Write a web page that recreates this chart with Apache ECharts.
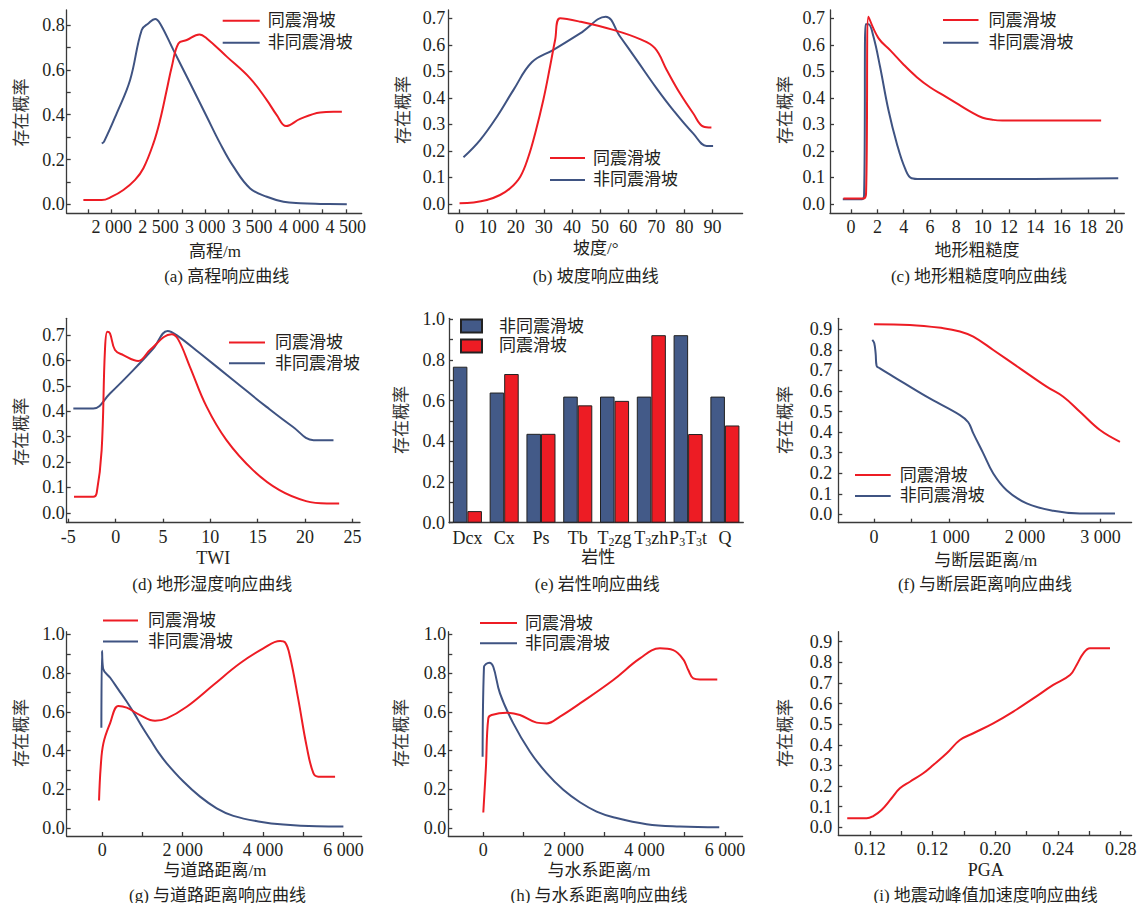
<!DOCTYPE html>
<html><head><meta charset="utf-8">
<script src="https://cdn.jsdelivr.net/npm/echarts@6/dist/echarts.min.js"></script>
<style>html,body{margin:0;padding:0;background:#fff}#c{width:1144px;height:903px}</style>
</head><body><div id="c"></div>
<script>
// ---------- data ----------
const NAME_RED = '同震滑坡', NAME_BLUE = '非同震滑坡';

const elevationRed = [[1698,0.019],[1894,0.019],[2001,0.034],[2125,0.064],[2250,0.109],[2339,0.161],[2446,0.272],[2517,0.376],[2588,0.51],[2642,0.614],[2713,0.718],[2802,0.733],[2937,0.758],[3016,0.74],[3229,0.659],[3479,0.562],[3657,0.465],[3763,0.398],[3863,0.349],[4013,0.381],[4227,0.41],[4369,0.413],[4458,0.413]];
const elevationBlue = [[1894,0.272],[1919,0.28],[2054,0.406],[2197,0.555],[2321,0.778],[2392,0.807],[2464,0.827],[2517,0.807],[2660,0.688],[2838,0.54],[3016,0.391],[3158,0.272],[3301,0.168],[3479,0.071],[3657,0.034],[3835,0.012],[4013,0.005],[4227,0.002],[4511,0.0]];

const slopeRed = [[0,0.003],[5,0.006],[9.7,0.015],[14.4,0.034],[18,0.059],[21.6,0.103],[24.5,0.178],[26.9,0.266],[29.8,0.392],[32.2,0.518],[34,0.618],[35.8,0.7],[42.9,0.687],[54.7,0.656],[64.2,0.621],[69.5,0.587],[73.7,0.505],[78.4,0.417],[83.1,0.342],[86.7,0.292],[89.6,0.288]];
const slopeBlue = [[1.4,0.176],[7.3,0.241],[13.3,0.329],[19.2,0.43],[25.7,0.534],[33.4,0.581],[42.9,0.643],[52,0.706],[57.1,0.631],[63,0.543],[70.1,0.436],[76,0.354],[83.1,0.266],[87.9,0.219],[90.2,0.219]];

const roughRed = [[-0.58,0.021],[0.94,0.021],[1.14,0.04],[1.32,0.706],[2.08,0.625],[3.0,0.578],[4.0,0.525],[5.0,0.478],[6.0,0.44],[7.0,0.41],[8.0,0.38],[9.0,0.35],[10.0,0.325],[10.8,0.317],[11.5,0.315],[13.3,0.315],[19.0,0.315]];
const roughBlue = [[-0.63,0.018],[0.81,0.018],[0.99,0.034],[1.11,0.677],[1.32,0.677],[1.7,0.631],[2.2,0.518],[2.84,0.354],[3.47,0.229],[4.1,0.134],[4.6,0.097],[5.24,0.094],[10.8,0.094],[20.3,0.097]];

const twiRed = [[-4.4,0.063],[-2.36,0.063],[-2.0,0.079],[-1.48,0.247],[-1.13,0.641],[-0.88,0.713],[-0.6,0.707],[-0.07,0.641],[0.81,0.621],[2.39,0.598],[3.62,0.641],[5.9,0.703],[6.6,0.683],[7.84,0.575],[9.6,0.418],[11.7,0.286],[14.5,0.168],[17.3,0.089],[20.1,0.046],[22.3,0.037],[23.6,0.037]];
const twiBlue = [[-4.47,0.411],[-2.36,0.411],[-0.6,0.47],[1.86,0.562],[3.97,0.647],[5.49,0.716],[6.43,0.7],[8.9,0.628],[12.4,0.523],[15.9,0.418],[18.7,0.339],[20.9,0.286],[23.0,0.286]];

const lithCategories = ['Dcx','Cx','Ps','Tb','T2zg','T3zh','P3T3t','Q'];
const lithBlue = [0.767,0.64,0.437,0.62,0.62,0.62,0.922,0.62];
const lithRed  = [0.057,0.731,0.437,0.577,0.599,0.922,0.436,0.478];

const faultRed = [[0,0.924],[476,0.921],[918,0.905],[1138,0.889],[1315,0.864],[1579,0.799],[1932,0.71],[2285,0.621],[2506,0.572],[2726,0.499],[2991,0.41],[3256,0.353]];
const faultBlue = [[-22,0.848],[4,0.832],[22,0.783],[35,0.722],[79,0.71],[256,0.67],[697,0.572],[1138,0.483],[1248,0.448],[1315,0.394],[1447,0.297],[1579,0.199],[1756,0.118],[2021,0.054],[2373,0.018],[2726,0.005],[3190,0.005]];

const roadRed = [[-83,0.143],[-41,0.318],[25,0.438],[191,0.541],[398,0.631],[606,0.622],[938,0.584],[1311,0.555],[1602,0.567],[2100,0.627],[2763,0.739],[3427,0.851],[4008,0.928],[4423,0.966],[4548,0.959],[4672,0.885],[4880,0.662],[5087,0.421],[5253,0.284],[5378,0.266],[5793,0.266]];
const roadBlue = [[-25,0.519],[-8,0.916],[17,0.825],[200,0.775],[400,0.715],[600,0.655],[800,0.59],[1000,0.52],[1200,0.455],[1400,0.39],[1602,0.335],[2017,0.241],[2432,0.163],[2846,0.103],[3261,0.064],[3925,0.034],[4506,0.019],[5336,0.01],[6000,0.009]];

const riverRed = [[0,0.081],[66,0.318],[124,0.567],[207,0.584],[579,0.596],[910,0.584],[1324,0.545],[1572,0.541],[1904,0.576],[2400,0.644],[3228,0.765],[3890,0.876],[4386,0.928],[4717,0.919],[4966,0.871],[5090,0.816],[5214,0.773],[5379,0.768],[5810,0.768]];
const riverBlue = [[-17,0.369],[17,0.833],[66,0.847],[149,0.854],[248,0.833],[414,0.696],[745,0.541],[1159,0.395],[1572,0.284],[1986,0.198],[2400,0.134],[2814,0.086],[3228,0.057],[4055,0.021],[4883,0.009],[5859,0.005]];

const pgaRed = [[0.1055,0.044],[0.1179,0.044],[0.1221,0.055],[0.1274,0.084],[0.1338,0.141],[0.1391,0.189],[0.1455,0.221],[0.154,0.262],[0.1604,0.302],[0.169,0.359],[0.1774,0.423],[0.186,0.456],[0.1987,0.504],[0.2115,0.561],[0.2243,0.625],[0.237,0.69],[0.2477,0.738],[0.2519,0.787],[0.2562,0.843],[0.2604,0.868],[0.2732,0.868]];

// ---------- tick values / labels ----------
const elevXTicks = [1750,2000,2250,2500,2750,3000,3250,3500,3750,4000,4250,4500];
const elevXLabels = [2000,2500,3000,3500,4000,4500];
const slopeXTicks = [0,10,20,30,40,50,60,70,80,90];
const roughXTicks = [0,2,4,6,8,10,12,14,16,18,20];
const twiXTicks = [-5,0,5,10,15,20,25];
const faultXTicks = [0,500,1000,1500,2000,2500,3000];
const faultXLabels = [0,1000,2000,3000];
const distXTicks = [0,1000,2000,3000,4000,5000,6000];
const distXLabels = [0,2000,4000,6000];
const pgaXTicks = [0.12,0.14,0.16,0.18,0.20,0.22,0.24,0.26,0.28];
const pgaXLabelValues = [0.12,0.16,0.20,0.24,0.28];
const pgaXLabelTexts = ['0.12','0.12','0.20','0.24','0.28'];
const y07Ticks = [0,0.1,0.2,0.3,0.4,0.5,0.6,0.7];
const y08Ticks = [0,0.1,0.2,0.3,0.4,0.5,0.6,0.7,0.8];
const y08Labels = [0,0.2,0.4,0.6,0.8];
const y09Ticks = [0,0.1,0.2,0.3,0.4,0.5,0.6,0.7,0.8,0.9];
const y10Ticks = [0,0.1,0.2,0.3,0.4,0.5,0.6,0.7,0.8,0.9,1.0];
const y10Labels = [0,0.2,0.4,0.6,0.8,1.0];

const yNameText = '存在概率';
const xNames = ['高程/m','坡度/°','地形粗糙度','TWI','岩性','与断层距离/m','与道路距离/m','与水系距离/m','PGA'];
const captions = ['(a) 高程响应曲线','(b) 坡度响应曲线','(c) 地形粗糙度响应曲线','(d) 地形湿度响应曲线','(e) 岩性响应曲线','(f) 与断层距离响应曲线','(g) 与道路距离响应曲线','(h) 与水系距离响应曲线','(i) 地震动峰值加速度响应曲线'];

// ---------- styles / layout ----------
const SERIF = "'Liberation Serif','Times New Roman','Noto Sans CJK SC',serif";
const TXT = '#231f20', AX = '#3a3a3a';
const RED = '#ed1c24', BLUE = '#3f5382', BAR_BLUE = '#435a88', BAR_RED = '#ed1c24';
const SMOOTH = 0.4;

function thou(v){ const r = Math.round(v); if (Math.abs(r) >= 1000){ const s = String(r); return s.slice(0,-3) + ' ' + s.slice(-3);} return String(r); }
const f1 = v => v.toFixed(1);
const plain = v => String(v);
const pgaFmt = v => { const i = pgaXLabelValues.findIndex(x => Math.abs(x - v) < 1e-9); return i >= 0 ? pgaXLabelTexts[i] : ''; };

const panels = [
 {g:[66.7,10,295,203.3], x:[1520,4670], y:[-0.04,0.867], xt:elevXTicks, xl:elevXLabels, xf:thou, yt:y08Ticks, yl:y08Labels, ym:2, red:elevationRed, blue:elevationBlue,
  leg:{l:222.7,t:12.2,w:37,gap:5,pad:3}, yn:[21.7,112.5], xn:[215,251.7], cap:[226.7,276]},
 {g:[448.3,10,294.3,203.3], x:[-4,100.7], y:[-0.035,0.731], xt:slopeXTicks, xl:slopeXTicks, xf:plain, yt:y07Ticks, yl:y07Ticks, ym:3, red:slopeRed, blue:slopeBlue,
  leg:{l:550,t:149.5,w:35,gap:5,pad:3}, yn:[403.3,110], xn:[595.8,248.3], cap:[595.7,276]},
 {g:[830,10,294.3,203.3], x:[-1.6,20.76], y:[-0.035,0.731], xt:roughXTicks, xl:roughXTicks, xf:plain, yt:y07Ticks, yl:y07Ticks, ym:5, red:roughRed, blue:roughBlue,
  leg:{l:943,t:11.5,w:35.5,gap:5.7,pad:5}, yn:[785,110], xn:[977,250], cap:[979,276]},
 {g:[66.7,318.3,293.3,204.4], x:[-5.17,25.8], y:[-0.039,0.766], xt:twiXTicks, xl:twiXTicks, xf:plain, yt:y07Ticks, yl:y07Ticks, ym:2, red:twiRed, blue:twiBlue,
  leg:{l:229,t:334,w:36,gap:3.7,pad:5}, yn:[21.7,431.7], xn:[213.3,558.3], cap:[212.3,584], latin:true},
 {bar:true, g:[449,318.3,294.3,204.4], y:[0,1.005], yt:y10Ticks, yl:y10Labels, ym:4,
  leg:{l:460,t:317.5,w:21,h:13,gap:3,pad:12}, yn:[401.7,420], xn:[598.3,557.5], cap:[597.3,584]},
 {g:[838.3,318.3,293.3,204.4], x:[-472,3410], y:[-0.04,0.953], xt:faultXTicks, xl:faultXLabels, xf:thou, yt:y09Ticks, yl:y09Ticks, ym:6, red:faultRed, blue:faultBlue,
  leg:{l:855,t:466.5,w:35.7,gap:4,pad:4}, yn:[785,420], xn:[985.7,560], cap:[985,584]},
 {g:[66.7,631.7,295,204.3], x:[-888,6456], y:[-0.04,1.014], xt:distXTicks, xl:distXLabels, xf:thou, yt:y10Ticks, yl:y10Labels, ym:2, red:roadRed, blue:roadBlue,
  leg:{l:103,t:612,w:35,gap:4,pad:5}, yn:[21.7,733], xn:[215,870], cap:[217.5,895]},
 {g:[448.3,631.7,294.3,204.3], x:[-869,6439], y:[-0.04,1.014], xt:distXTicks, xl:distXLabels, xf:thou, yt:y10Ticks, yl:y10Labels, ym:2, red:riverRed, blue:riverBlue,
  leg:{l:480,t:614.5,w:37,gap:3.3,pad:3}, yn:[401.7,733], xn:[599,870], cap:[599,895]},
 {g:[838.3,631.7,293.3,203.3], x:[0.0998,0.287], y:[-0.037,0.948], xt:pgaXTicks, xl:pgaXLabelValues, xf:pgaFmt, yt:y09Ticks, yl:y09Ticks, ym:6, red:pgaRed, blue:null,
  leg:null, yn:[785,733], xn:[985.7,870], cap:[985.7,895], latin:true}
];

const axisLine = {show:true, onZero:false, lineStyle:{color:AX, width:1.3}};
const tickStyle = {color:AX, width:1.3};
const labelBase = {color:TXT, fontSize:18, fontFamily:SERIF};

const grids = [], xAxes = [], yAxes = [], series = [], legends = [], graphics = [];
panels.forEach((p, i) => {
  grids.push({left:p.g[0], top:p.g[1], width:p.g[2], height:p.g[3]});
  if (p.bar) {
    xAxes.push({gridIndex:i, type:'category', data:lithCategories, boundaryGap:true,
      axisLine:axisLine, axisTick:{show:false}, splitLine:{show:false},
      axisLabel:Object.assign({}, labelBase, {interval:0, margin:5, lineHeight:20,
        formatter: v => v.replace(/(\d)/g, '{s|$1}'),
        rich:{s:{fontSize:12, fontFamily:SERIF, color:TXT, verticalAlign:'bottom'}}})});
  } else {
    xAxes.push({gridIndex:i, type:'value', min:p.x[0], max:p.x[1],
      axisLine:axisLine, splitLine:{show:false},
      axisTick:{show:true, inside:true, length:4, customValues:p.xt, lineStyle:tickStyle},
      axisLabel:Object.assign({}, labelBase, {customValues:p.xl, formatter:p.xf, margin:5})});
  }
  yAxes.push({gridIndex:i, type:'value', min:p.y[0], max:p.y[1],
    axisLine:axisLine, splitLine:{show:false},
    axisTick:{show:true, inside:true, length:4, customValues:p.yt, lineStyle:tickStyle},
    axisLabel:Object.assign({}, labelBase, {customValues:p.yl, formatter:f1, margin:p.ym})});

  if (p.bar) {
    series.push({type:'bar', name:'e:' + NAME_BLUE, xAxisIndex:i, yAxisIndex:i, data:lithBlue,
      barGap:'0%', barCategoryGap:'21%', itemStyle:{color:BAR_BLUE, borderColor:'#222', borderWidth:1}});
    series.push({type:'bar', name:'e:' + NAME_RED, xAxisIndex:i, yAxisIndex:i, data:lithRed,
      barGap:'0%', barCategoryGap:'21%', itemStyle:{color:BAR_RED, borderColor:'#222', borderWidth:1}});
    legends.push({left:p.leg.l, top:p.leg.t, orient:'vertical', padding:0, itemGap:p.leg.gap,
      itemWidth:p.leg.w, itemHeight:p.leg.h, icon:'rect', data:['e:' + NAME_BLUE, 'e:' + NAME_RED],
      formatter: n => n.split(':')[1], selectedMode:false,
      textStyle:{fontSize:17, color:TXT, fontFamily:SERIF, padding:[0,0,0,p.leg.pad]}});
  } else {
    if (p.blue) series.push({type:'line', name:NAME_BLUE, xAxisIndex:i, yAxisIndex:i, data:p.blue,
      symbol:'none', smooth:SMOOTH, lineStyle:{color:BLUE, width:2}, itemStyle:{color:BLUE}});
    series.push({type:'line', name:NAME_RED, xAxisIndex:i, yAxisIndex:i, data:p.red,
      symbol:'none', smooth:SMOOTH, lineStyle:{color:RED, width:2}, itemStyle:{color:RED}});
    if (p.leg) legends.push({left:p.leg.l, top:p.leg.t, orient:'vertical', padding:0, itemGap:p.leg.gap,
      itemWidth:p.leg.w, itemHeight:2,
      data:[{name:NAME_RED, icon:'rect', itemStyle:{color:RED}}, {name:NAME_BLUE, icon:'rect', itemStyle:{color:BLUE}}],
      selectedMode:false,
      textStyle:{fontSize:17, color:TXT, fontFamily:SERIF, padding:[0,0,0,p.leg.pad]}});
  }
  graphics.push({type:'text', x:p.yn[0], y:p.yn[1], rotation:Math.PI/2,
    style:{text:yNameText, font:'17px ' + SERIF, fill:'#333', textAlign:'center', textVerticalAlign:'middle'}});
  graphics.push({type:'text', x:p.xn[0], y:p.xn[1],
    style:{text:xNames[i], font:(p.latin ? '18px ' : '17px ') + SERIF, fill:TXT, textAlign:'center', textVerticalAlign:'middle'}});
  graphics.push({type:'text', x:p.cap[0], y:p.cap[1],
    style:{text:captions[i], font:'17px ' + SERIF, fill:TXT, textAlign:'center', textVerticalAlign:'middle'}});
});

const chart = echarts.init(document.getElementById('c'), null, {renderer:'svg'});
chart.setOption({
  backgroundColor:'#fff', animation:false,
  grid:grids, xAxis:xAxes, yAxis:yAxes, series:series, legend:legends, graphic:graphics
});
</script></body></html>
